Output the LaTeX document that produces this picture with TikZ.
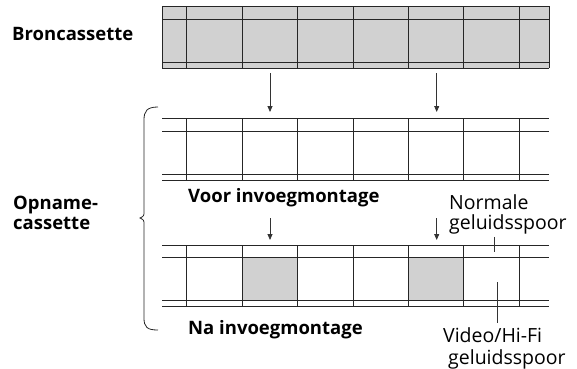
\documentclass[tikz,border=0pt]{standalone}
\usepackage{fontspec}
\setmainfont{Open Sans}
\usetikzlibrary{arrows.meta}
\tikzset{
  tape line/.style={draw=black!85, line width=0.8pt},
  tape shade/.style={fill=black!18},
  tape label/.style={
    font=\bfseries\fontsize{18.5}{20}\selectfont,
    inner sep=0pt
  },
  track label/.style={
    font=\fontsize{19.5}{20}\selectfont,
    align=left,
    inner sep=0pt
  },
  feed arrow/.style={-{Triangle[length=6pt,width=5pt]}, draw=black!80, line width=0.8pt},
  pointer line/.style={draw=black!80, line width=0.7pt}
}
\newcommand{\tapeTrack}[4]{%
  \foreach \ty in {#1,#2,#3,#4}
    \draw[tape line] (162,\ty) -- (549,\ty);%
  \foreach \k in {0,...,6}
    \draw[tape line] ({186.7+55.43*\k},#1) -- ({186.7+55.43*\k},#4);%
}
\newcommand{\tapeFrame}[3][]{%
  \path[tape shade,#1] ({186.7+55.43*#2},#3) rectangle ++(55.43,43);%
}

\begin{document}
\begin{tikzpicture}[x=1pt,y=-1pt]
  \useasboundingbox (0,0) rectangle (577,368);

  % source tape
  \path[tape shade] (162,6) rectangle (549,68);
  \tapeTrack{6}{19}{62}{68}
  \draw[tape line] (162,6) -- (162,68) (549,6) -- (549,68);

  % recording tape, before and after
  \tapeTrack{118}{131}{174}{180}
  \tapeFrame{1}{257}
  \tapeFrame{4}{257}
  \tapeTrack{245}{257}{300}{306}

  \coordinate (srcA) at (270,73);
  \coordinate (srcB) at (436.7,73);
  \coordinate (dstA) at (270,112);
  \coordinate (dstB) at (436.7,112);
  \coordinate (insA) at (270,218);
  \coordinate (insB) at (436.7,218);
  \coordinate (insEndA) at (270,240);
  \coordinate (insEndB) at (436.7,240);
  \draw[feed arrow] (srcA) -- (dstA);
  \draw[feed arrow] (srcB) -- (dstB);
  \draw[feed arrow] (insA) -- (insEndA);
  \draw[feed arrow] (insB) -- (insEndB);

  % brace
  \draw[line width=0.8pt, black!85]
    (158,107) .. controls (147,107) and (144,111) .. (144,120)
    -- (144,211) .. controls (144,216) .. (140,218)
    .. controls (144,220) .. (144,225)
    -- (144,318) .. controls (144,327) and (147,330) .. (158,330);

  \node[tape label, anchor=west] (bron) at (12,34) {Broncassette};
  \node[tape label, align=left, anchor=west] (opname) at (13,213) {Opname-\\cassette};
  \node[tape label, anchor=west] (voor) at (188,198) {Voor invoegmontage};
  \node[tape label, anchor=west] (na) at (188,330) {Na invoegmontage};

  \node[track label, anchor=west] (normal) at (449,214) {Normale\\geluidsspoor};
  \node[track label, anchor=west] (video) at (443,348) {Video/Hi-Fi\\[2pt]\hspace*{5pt}geluidsspoor};

  \coordinate (normTip) at (494,252);
  \coordinate (vidTip) at (497,282);
  \draw[pointer line] (normTip |- normal.south) ++(0,3) -- (normTip);
  \draw[pointer line] (vidTip) -- ([yshift=4pt]vidTip |- video.north);
\end{tikzpicture}
\end{document}
